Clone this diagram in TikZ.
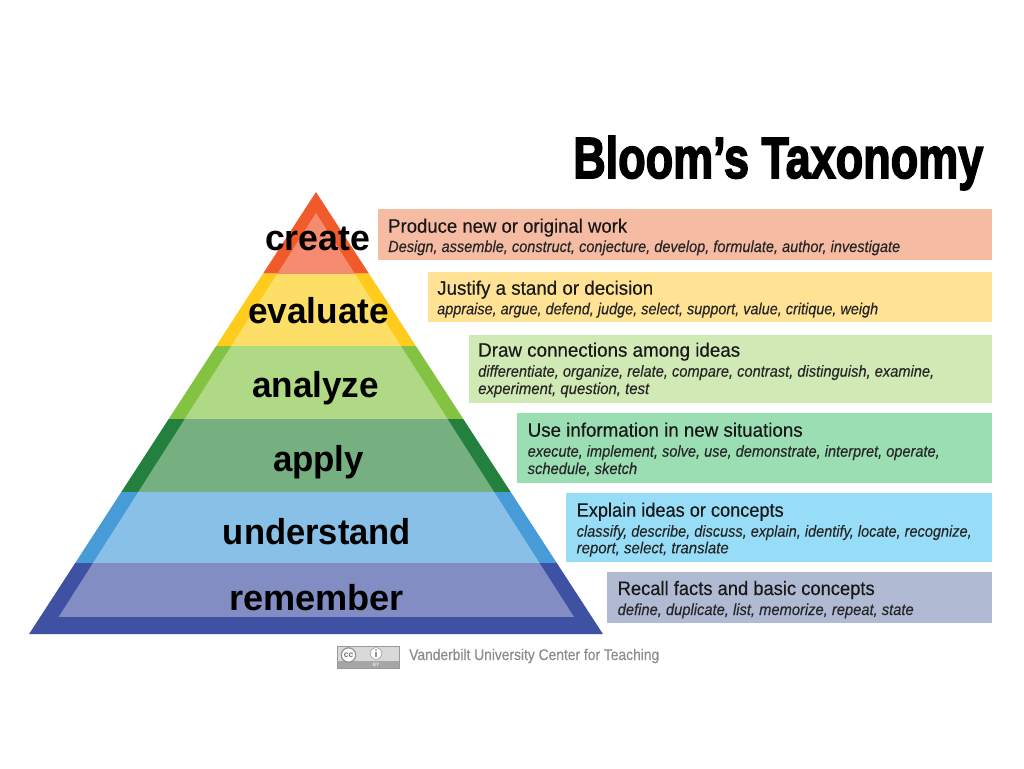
\documentclass[tikz,border=0pt]{standalone}
\usepackage{fontspec}
\usepackage{graphicx}
\setmainfont{Liberation Sans}
\newfontfamily\headfont[FakeBold=0.35]{Liberation Sans}
\newfontfamily\verbfont[FakeBold=0.2,ItalicFeatures={FakeBold=0.2}]{Liberation Sans}
\newfontfamily\titlefont[FakeBold=3]{Liberation Sans}
\newfontfamily\creditfont[FakeBold=0.25]{Liberation Sans}
\newcommand{\fitw}[2]{\resizebox{#1pt}{\height}{#2}}
\tikzset{x=1pt,y=-1pt,
 bandbox/.style={anchor=north west,inner sep=0pt,outer sep=0pt,draw=none},
 levellabel/.style={anchor=base,inner sep=0pt,font=\fontsize{36}{36}\selectfont\bfseries,text=black},
 headtext/.style={anchor=base west,inner sep=0pt,font=\headfont\fontsize{19.5}{20}\selectfont,text=black!90},
 verbtext/.style={anchor=base west,inner sep=0pt,font=\verbfont\fontsize{16}{17}\selectfont\itshape,text=black!85},
}
\definecolor{cOa}{HTML}{F15A2B}\definecolor{cIa}{HTML}{F58B6F}\definecolor{cBa}{HTML}{F6BBA3}
\definecolor{cOb}{HTML}{FFCC1E}\definecolor{cIb}{HTML}{FDDF68}\definecolor{cBb}{HTML}{FFE293}
\definecolor{cOc}{HTML}{84C341}\definecolor{cIc}{HTML}{AFD984}\definecolor{cBc}{HTML}{D1E9B4}
\definecolor{cOd}{HTML}{24803F}\definecolor{cId}{HTML}{76AF80}\definecolor{cBd}{HTML}{9BDEB3}
\definecolor{cOe}{HTML}{479CD8}\definecolor{cIe}{HTML}{88C0E8}\definecolor{cBe}{HTML}{98DDF8}
\definecolor{cOf}{HTML}{3F51A3}\definecolor{cIf}{HTML}{828EC3}\definecolor{cBf}{HTML}{B0BAD3}
\begin{document}
\begin{tikzpicture}
\useasboundingbox (0,0) rectangle (1024,768);
\fill[white] (0,0) rectangle (1024,768);
% pyramid outer bands
\fill[cOa] (316,192) -- (368.9,273.5) -- (263.1,273.5) -- cycle;
\fill[cOb] (263.1,273.5) -- (368.9,273.5) -- (415.9,346) -- (216.1,346) -- cycle;
\fill[cOc] (216.1,346) -- (415.9,346) -- (463.3,419) -- (168.7,419) -- cycle;
\fill[cOd] (168.7,419) -- (463.3,419) -- (510.7,492) -- (121.3,492) -- cycle;
\fill[cOe] (121.3,492) -- (510.7,492) -- (556.8,563) -- (75.2,563) -- cycle;
\fill[cOf] (75.2,563) -- (556.8,563) -- (602.9,634) -- (29.1,634) -- cycle;
% pyramid inner bands
\begin{scope}
\clip (316,213) -- (574,617) -- (58.6,617) -- cycle;
\fill[cIa] (0,190) rectangle (640,273.5);
\fill[cIb] (0,273.5) rectangle (640,346);
\fill[cIc] (0,346) rectangle (640,419);
\fill[cId] (0,419) rectangle (640,492);
\fill[cIe] (0,492) rectangle (640,563);
\fill[cIf] (0,563) rectangle (640,617);
\end{scope}
% level labels
\node[levellabel] (lcreate) at (317.5,250) {\fitw{105}{create}};
\node[levellabel] (levaluate) at (318.5,323.7) {\fitw{141}{evaluate}};
\node[levellabel] (lanalyze) at (315.5,397) {\fitw{127}{analyze}};
\node[levellabel] (lapply) at (318.5,471) {\fitw{91}{apply}};
\node[levellabel] (lunderstand) at (317,544) {\fitw{188}{understand}};
\node[levellabel] (lremember) at (316.5,610) {\fitw{175}{remember}};
% title
\node[anchor=base west,inner sep=0pt] (title) at (573,178) {\fitw{410}{\titlefont\fontsize{58}{58}\selectfont\bfseries Bloom’s Taxonomy}};
% boxes
\node[bandbox,fill=cBa,minimum width=614pt,minimum height=51pt] (boxa) at (378,209) {};
\node[bandbox,fill=cBb,minimum width=564pt,minimum height=50.3pt] (boxb) at (428,271.7) {};
\node[bandbox,fill=cBc,minimum width=523pt,minimum height=68pt] (boxc) at (469,334.7) {};
\node[bandbox,fill=cBd,minimum width=475pt,minimum height=69.7pt] (boxd) at (517,413) {};
\node[bandbox,fill=cBe,minimum width=426pt,minimum height=69.3pt] (boxe) at (566,493) {};
\node[bandbox,fill=cBf,minimum width=385pt,minimum height=50.7pt] (boxf) at (607,572) {};
% box texts
\node[headtext] (ha) at (388,232.7) {\fitw{239}{Produce new or original work}};
\node[verbtext] (va) at (388,252) {\fitw{512}{Design, assemble, construct, conjecture, develop, formulate, author, investigate}};
\node[headtext] (hb) at (437,294.7) {\fitw{216}{Justify a stand or decision}};
\node[verbtext] (vb) at (437,314.3) {\fitw{441}{appraise, argue, defend, judge, select, support, value, critique, weigh}};
\node[headtext] (hc) at (478,356.7) {\fitw{262}{Draw connections among ideas}};
\node[verbtext] (vc) at (478,376.7) {\fitw{456}{differentiate, organize, relate, compare, contrast, distinguish, examine,}};
\node[verbtext] (wc) at (478,394) {\fitw{171}{experiment, question, test}};
\node[headtext] (hd) at (527.5,436.7) {\fitw{275}{Use information in new situations}};
\node[verbtext] (vd) at (527.5,456.7) {\fitw{412}{execute, implement, solve, use, demonstrate, interpret, operate,}};
\node[verbtext] (wd) at (527.5,474) {\fitw{109.5}{schedule, sketch}};
\node[headtext] (he) at (576.5,516.7) {\fitw{207}{Explain ideas or concepts}};
\node[verbtext] (ve) at (576.5,536.7) {\fitw{395}{classify, describe, discuss, explain, identify, locate, recognize,}};
\node[verbtext] (we) at (576.5,553.3) {\fitw{152}{report, select, translate}};
\node[headtext] (hf) at (617.5,595) {\fitw{257}{Recall facts and basic concepts}};
\node[verbtext] (vf) at (617.5,615) {\fitw{296}{define, duplicate, list, memorize, repeat, state}};
% credit
\fill[gray!30,rounded corners=0.6pt] (337,646) rectangle (399,668);
\fill[gray!70] (337,661) rectangle (399,668);
\draw[gray!80,line width=0.6pt] (337,646) rectangle (399,668);
\fill[white,draw=gray!85,line width=1.2pt] (348.5,655) circle (7.2pt);
\node[inner sep=0pt,text=gray!90!black,font=\fontsize{8.5}{8.5}\selectfont\bfseries] (cc) at (348.5,655) {cc};
\fill[white,draw=gray!70,line width=0.7pt] (376,653.5) circle (5.8pt);
\fill[gray!85] (376,650.2) circle (1pt);
\fill[gray!85] (374.8,651.8) rectangle (377.2,656.8);
\node[inner sep=0pt,text=gray!20,font=\fontsize{5}{5}\selectfont\bfseries] (by) at (376,664.6) {BY};
\node[anchor=base west,inner sep=0pt,text=gray!90,font=\creditfont\fontsize{15.5}{16}\selectfont] (credit) at (409,660) {\fitw{250}{Vanderbilt University Center for Teaching}};
\end{tikzpicture}
\end{document}
